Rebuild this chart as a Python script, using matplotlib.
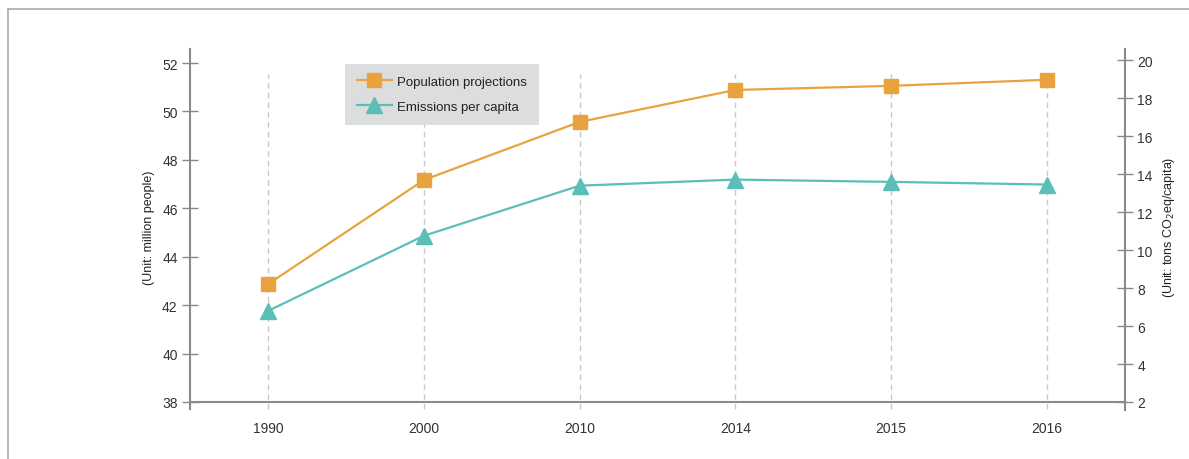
import matplotlib.pyplot as plt
from matplotlib.lines import Line2D

years = ['1990', '2000', '2010', '2014', '2015', '2016']
population = [42.87, 47.17, 49.57, 50.89, 51.06, 51.31]
emissions = [6.8, 10.76, 13.4, 13.72, 13.6, 13.46]

orange = '#E9A33E'
teal = '#5BBFB7'
axis_gray = '#8a8a8a'
text_gray = '#333333'

plt.rcParams['font.family'] = ['Liberation Sans', 'DejaVu Sans']

fig = plt.figure(figsize=(11.89, 4.6), dpi=100)
ax = fig.add_axes([0.160, 0.124, 0.786, 0.763])
ax2 = ax.twinx()

x = list(range(len(years)))

# dashed vertical guides
for xi in x:
    ax.axvline(xi, ymin=-0.02, ymax=0.935, color='#c8c8c8', linestyle=(0, (4, 3)),
               linewidth=1, clip_on=False, zorder=0)

l1, = ax.plot(x, population, color=orange, linewidth=1.6, marker='s', markersize=10,
              label='Population projections', zorder=3)
l2, = ax2.plot(x, emissions, color=teal, linewidth=1.6, marker='^', markersize=12,
               label='Emissions per capita', zorder=3)

ax.set_xlim(-0.5, 5.5)
ax.set_ylim(38, 52.5)
ax2.set_ylim(2, 20.5)
ax.set_yticks(range(38, 53, 2))
ax2.set_yticks(range(2, 21, 2))
ax.set_xticks(x)
ax.set_xticklabels(years)

for a in (ax, ax2):
    for s in a.spines.values():
        s.set_visible(False)
ax.spines['left'].set_visible(True)
ax.spines['bottom'].set_visible(True)
ax2.spines['right'].set_visible(True)
ax.spines['left'].set_bounds(37.7, 52.6)
ax2.spines['right'].set_bounds(1.6, 20.6)
for s in (ax.spines['left'], ax.spines['bottom'], ax2.spines['right']):
    s.set_color(axis_gray)
    s.set_linewidth(1.5)
ax.spines['left'].set_clip_on(False)
ax2.spines['right'].set_clip_on(False)

ax.tick_params(axis='y', direction='inout', length=12, width=1, color=axis_gray,
               labelsize=10, labelcolor=text_gray, pad=3)
ax2.tick_params(axis='y', direction='inout', length=12, width=1, color=axis_gray,
                labelsize=10, labelcolor=text_gray, pad=3)
ax.tick_params(axis='x', length=0, labelsize=10, labelcolor=text_gray, pad=14)

ax.set_ylabel('(Unit: million people)', fontsize=9, color='#222222', labelpad=5)
ax2.set_ylabel('(Unit: tons CO$_2$eq/capita)', fontsize=9, color='#222222', labelpad=6)

leg = ax.legend(handles=[l1, l2], loc='upper left', bbox_to_anchor=(0.166, 0.963),
                fontsize=9.5, frameon=True, fancybox=False, facecolor='#dcdddf',
                edgecolor='none', framealpha=1, handlelength=2.6, borderpad=0.9,
                labelspacing=0.95, handletextpad=0.4, borderaxespad=0)
for t in leg.get_texts():
    t.set_color('#222222')

# outer frame (top and left edges)
fig.add_artist(Line2D([8 / 1189, 8 / 1189], [0, 1 - 10 / 460], transform=fig.transFigure,
                      color='#aaaaaa', linewidth=1.2))
fig.add_artist(Line2D([8 / 1189, 1], [1 - 10 / 460, 1 - 10 / 460], transform=fig.transFigure,
                      color='#aaaaaa', linewidth=1.2))

fig.savefig('out.png', dpi=100)
